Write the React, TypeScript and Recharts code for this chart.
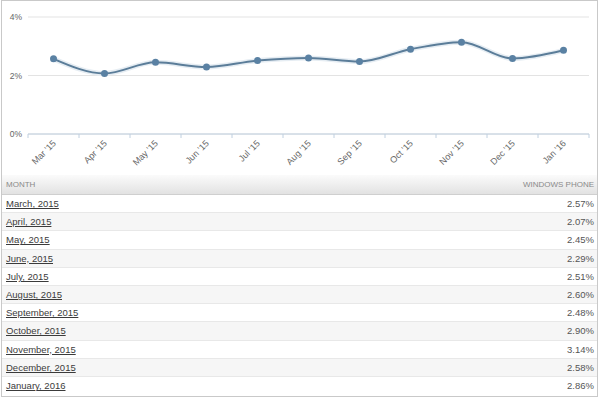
import React from 'react';
import { LineChart, Line, XAxis, YAxis, CartesianGrid } from 'recharts';

const shortMonths = ["Mar '15", "Apr '15", "May '15", "Jun '15", "Jul '15", "Aug '15", "Sep '15", "Oct '15", "Nov '15", "Dec '15", "Jan '16"];
const longMonths = ["March, 2015", "April, 2015", "May, 2015", "June, 2015", "July, 2015", "August, 2015", "September, 2015", "October, 2015", "November, 2015", "December, 2015", "January, 2016"];
const windowsPhone = [2.57, 2.07, 2.45, 2.29, 2.51, 2.6, 2.48, 2.9, 3.14, 2.58, 2.86];
const yTicks = [0, 2, 4];

const data = shortMonths.map((m, i) => ({ month: m, value: windowsPhone[i] }));

const FONT = '"Liberation Sans", Arial, sans-serif';

function MonthTick(props: any) {
    const { x, y, payload, index } = props;
    const half = payload.offset || 25.5;
    return (
        <g>
            <line x1={x - half} y1={y} x2={x - half} y2={y + 4} stroke="#c0d0e0" />
            {index === shortMonths.length - 1 && (
                <line x1={x + half} y1={y} x2={x + half} y2={y + 4} stroke="#c0d0e0" />
            )}
            <text
                x={x + 3}
                y={y + 10}
                textAnchor="end"
                fill="#666"
                fontSize={9}
                fontFamily={FONT}
                transform={`rotate(-45, ${x + 3}, ${y + 10})`}
            >
                {payload.value}
            </text>
        </g>
    );
}

export default function App() {
    return (
        <div style={{ position: 'absolute', left: 0, top: 0, width: 600, height: 399, background: '#fff', fontFamily: FONT, overflow: 'hidden' }}>
            <div style={{ position: 'absolute', left: 1, top: 0, width: 597, height: 176, border: '1px solid #c9c9c9', boxSizing: 'border-box', background: '#fff' }} />
            <div style={{ position: 'absolute', left: 0, top: 0 }}>
                <LineChart width={600} height={175} data={data} margin={{ top: 17, right: 11, bottom: 0, left: 0 }}>
                    <CartesianGrid vertical={false} stroke="#e3e3e3" />
                    <XAxis
                        dataKey="month"
                        scale="band"
                        height={41}
                        interval={0}
                        axisLine={{ stroke: '#c0d0e0' }}
                        tickLine={false}
                        tickSize={0}
                        tickMargin={0}
                        tick={<MonthTick />}
                    />
                    <YAxis
                        width={28}
                        domain={[0, 4]}
                        ticks={yTicks}
                        axisLine={false}
                        tickLine={false}
                        tickSize={0}
                        tickMargin={6}
                        tickFormatter={(v) => `${v}%`}
                        tick={{ fill: '#666', fontSize: 8.5, fontFamily: FONT }}
                    />
                    {/* soft shadow under the line */}
                    <Line
                        type="monotone"
                        dataKey="value"
                        stroke="#e6edf3"
                        strokeWidth={5}
                        dot={false}
                        activeDot={false}
                        isAnimationActive={false}
                    />
                    <Line
                        type="monotone"
                        dataKey="value"
                        stroke="#5b7d99"
                        strokeWidth={2}
                        dot={{ r: 3.5, fill: '#5a81a3', stroke: '#5a81a3', strokeWidth: 0 }}
                        activeDot={false}
                        isAnimationActive={false}
                    />
                </LineChart>
            </div>
            <div style={{ position: 'absolute', left: 1, top: 175, width: 597, height: 222, border: '1px solid #c9c9c9', borderTop: 'none', boxSizing: 'border-box' }}>
                <div style={{ height: 20, boxSizing: 'border-box', borderBottom: '1px solid #cfcfcf', background: 'linear-gradient(#fbfbfb, #e2e2e2)', display: 'flex', alignItems: 'center', justifyContent: 'space-between', padding: '0 3px 0 4px', fontSize: 8, color: '#8a8a8a', textTransform: 'uppercase' }}>
                    <span>Month</span>
                    <span>Windows Phone</span>
                </div>
                {longMonths.map((m, i) => (
                    <div key={m} style={{ height: 18.2, boxSizing: 'border-box', borderBottom: i < longMonths.length - 1 ? '1px solid #e8e8e8' : 'none', background: i % 2 === 1 ? '#f6f6f6' : '#fff', display: 'flex', alignItems: 'center', justifyContent: 'space-between', padding: '0 3px 0 4px', fontSize: 9.5 }}>
                        <span style={{ color: '#3b3b3b', textDecoration: 'underline' }}>{m}</span>
                        <span style={{ color: '#555' }}>{windowsPhone[i].toFixed(2)}%</span>
                    </div>
                ))}
            </div>
        </div>
    );
}
